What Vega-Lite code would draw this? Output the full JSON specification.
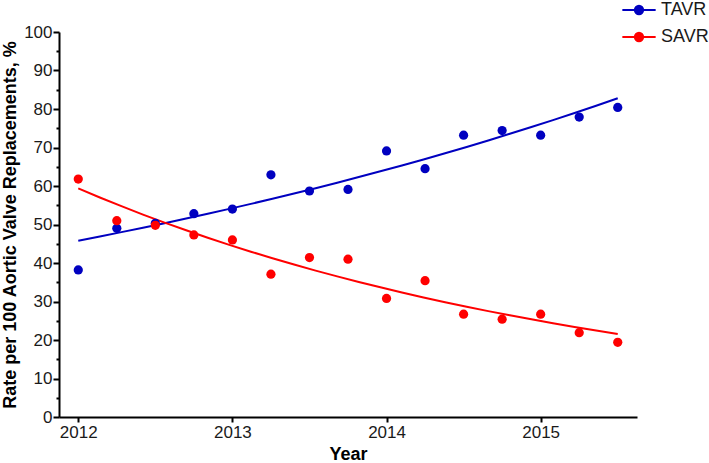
{
  "$schema": "https://vega.github.io/schema/vega-lite/v6.json",
  "autosize": {"type": "none"},
  "width": 578,
  "height": 385,
  "padding": {"left": 59, "top": 32, "right": 72, "bottom": 46},
  "background": "white",
  "config": {
    "view": {"stroke": null},
    "font": "Liberation Sans",
    "axis": {
      "domainColor": "black",
      "domainWidth": 2,
      "tickColor": "black",
      "tickWidth": 2,
      "grid": false,
      "labelFont": "Liberation Sans",
      "labelFontSize": 17,
      "labelColor": "#1a1a1a",
      "titleFont": "Liberation Sans",
      "titleFontSize": 18,
      "titleFontWeight": "bold",
      "titleColor": "black"
    }
  },
  "data": {
    "values": [
      {"series": "TAVR", "t": 2012.0, "value": 38.2},
      {"series": "TAVR", "t": 2012.25, "value": 49.0},
      {"series": "TAVR", "t": 2012.5, "value": 50.3},
      {"series": "TAVR", "t": 2012.75, "value": 52.8},
      {"series": "TAVR", "t": 2013.0, "value": 54.0},
      {"series": "TAVR", "t": 2013.25, "value": 62.9},
      {"series": "TAVR", "t": 2013.5, "value": 58.7},
      {"series": "TAVR", "t": 2013.75, "value": 59.1},
      {"series": "TAVR", "t": 2014.0, "value": 69.1},
      {"series": "TAVR", "t": 2014.25, "value": 64.5},
      {"series": "TAVR", "t": 2014.5, "value": 73.2},
      {"series": "TAVR", "t": 2014.75, "value": 74.4},
      {"series": "TAVR", "t": 2015.0, "value": 73.2},
      {"series": "TAVR", "t": 2015.25, "value": 77.9},
      {"series": "TAVR", "t": 2015.5, "value": 80.4},
      {"series": "SAVR", "t": 2012.0, "value": 61.8},
      {"series": "SAVR", "t": 2012.25, "value": 51.0},
      {"series": "SAVR", "t": 2012.5, "value": 49.8},
      {"series": "SAVR", "t": 2012.75, "value": 47.3},
      {"series": "SAVR", "t": 2013.0, "value": 46.0},
      {"series": "SAVR", "t": 2013.25, "value": 37.1},
      {"series": "SAVR", "t": 2013.5, "value": 41.4},
      {"series": "SAVR", "t": 2013.75, "value": 41.0},
      {"series": "SAVR", "t": 2014.0, "value": 30.8},
      {"series": "SAVR", "t": 2014.25, "value": 35.4},
      {"series": "SAVR", "t": 2014.5, "value": 26.7},
      {"series": "SAVR", "t": 2014.75, "value": 25.4},
      {"series": "SAVR", "t": 2015.0, "value": 26.7},
      {"series": "SAVR", "t": 2015.25, "value": 21.9},
      {"series": "SAVR", "t": 2015.5, "value": 19.4}
    ]
  },
  "encoding": {
    "x": {
      "field": "t",
      "type": "quantitative",
      "title": "Year",
      "scale": {"domain": [2011.875, 2015.625], "nice": false, "zero": false},
      "axis": {
        "values": [2012, 2013, 2014, 2015],
        "format": "d",
        "tickSize": 5,
        "labelPadding": 2,
        "titlePadding": 5
      }
    },
    "y": {
      "field": "value",
      "type": "quantitative",
      "title": "Rate per 100 Aortic Valve Replacements, %",
      "scale": {"domain": [0, 100], "nice": false},
      "axis": {
        "values": [0, 5, 10, 15, 20, 25, 30, 35, 40, 45, 50, 55, 60, 65, 70, 75, 80, 85, 90, 95, 100],
        "labelExpr": "datum.value % 10 === 0 ? datum.label : ''",
        "tickSize": {"condition": {"test": "datum.value % 10 === 0", "value": 6}, "value": 3},
        "labelPadding": 1,
        "titlePadding": 4
      }
    },
    "color": {
      "field": "series",
      "type": "nominal",
      "scale": {"domain": ["TAVR", "SAVR"], "range": ["#0000c0", "#ff0000"]},
      "legend": {
        "title": null,
        "orient": "none",
        "legendX": 562,
        "legendY": -40,
        "symbolType": "M-1,0L1,0M-0.25,0A0.25,0.25,0,1,1,0.25,0A0.25,0.25,0,1,1,-0.25,0Z",
        "symbolSize": 1109,
        "symbolStrokeWidth": 2,
        "labelFontSize": 18,
        "labelFont": "Liberation Sans",
        "labelColor": "#1a1a1a",
        "labelOffset": 4,
        "rowPadding": 0,
        "encode": {
          "symbols": {
            "update": {
              "stroke": {"scale": "color", "field": "value"},
              "fill": {"scale": "color", "field": "value"},
              "strokeWidth": {"value": 2}
            }
          }
        }
      }
    }
  },
  "layer": [
    {
      "transform": [
        {"regression": "value", "on": "t", "groupby": ["series"], "method": "exp", "extent": [2012, 2015.5]}
      ],
      "mark": {"type": "line", "strokeWidth": 2}
    },
    {
      "mark": {"type": "point", "filled": true, "size": 85, "opacity": 1, "shape": "circle"}
    }
  ]
}
